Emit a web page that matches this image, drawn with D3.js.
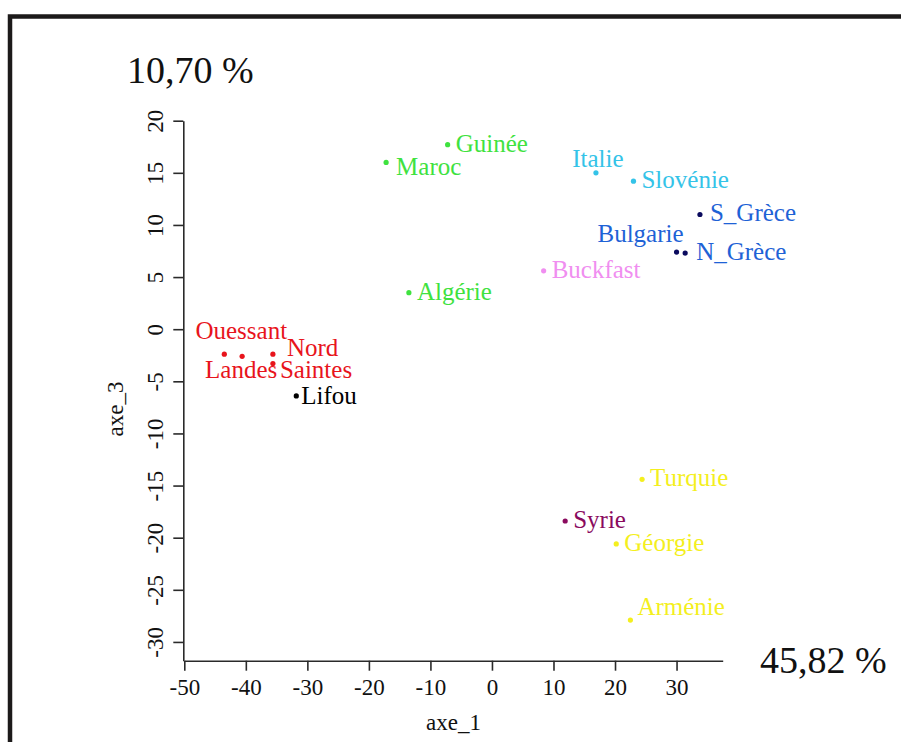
<!DOCTYPE html>
<html>
<head>
<meta charset="utf-8">
<script src="https://cdn.jsdelivr.net/npm/d3@7"></script>
<style>
  html, body { margin: 0; padding: 0; background: #fff; }
  svg { display: block; }
  text { font-family: "Liberation Serif", "Times New Roman", serif; }
</style>
</head>
<body>
<svg id="chart" width="901" height="742"></svg>
<script>
// Population coordinates on the first and third axes
const populations = ["Guinée", "Maroc", "Algérie", "Italie", "Slovénie", "S_Grèce", "Bulgarie", "N_Grèce",
  "Buckfast", "Ouessant", "Landes", "Nord", "Saintes", "Lifou", "Turquie", "Syrie", "Géorgie", "Arménie"];
const axe1 = [-7.2, -17.2, -13.5, 16.9, 23.0, 33.8, 30.0, 31.4,
  8.4, -43.5, -40.6, -35.6, -35.6, -31.8, 24.4, 11.9, 20.2, 22.5];
const axe3 = [17.7, 16.0, 3.5, 15.0, 14.2, 11.0, 7.4, 7.3,
  5.6, -2.4, -2.6, -2.4, -3.3, -6.4, -14.4, -18.4, -20.6, -27.9];
const lineage = ["A", "A", "A", "C", "C", "O", "O", "O",
  "B", "M", "M", "M", "M", "N", "Y", "S", "Y", "Y"];

const xTicks = [-50, -40, -30, -20, -10, 0, 10, 20, 30];
const yTicks = [-30, -25, -20, -15, -10, -5, 0, 5, 10, 15, 20];
const xTitle = "axe_1";
const yTitle = "axe_3";
const xInertia = "45,82 %";
const yInertia = "10,70 %";

// Colours per lineage: point fill and label fill
const dotColor = { A: "#3fe23f", C: "#34c3e8", O: "#0b0b5e", B: "#f08ef0", M: "#e8141c", N: "#000", Y: "#f4ef1e", S: "#8a0a5e" };
const textColor = { A: "#3fe23f", C: "#34c3e8", O: "#1e62d6", B: "#f08ef0", M: "#e8141c", N: "#000", Y: "#f4ef1e", S: "#8a0a5e" };

// Label placement relative to each point (pixels); default sits to the right
const labelPlace = {
  "Maroc": { dx: 10, dy: 13, anchor: "start" },
  "Italie": { dx: 2, dy: -6, anchor: "middle" },
  "Bulgarie": { dx: 7, dy: -10, anchor: "end" },
  "Ouessant": { dx: 17, dy: -15, anchor: "middle" },
  "Landes": { dx: -1, dy: 22, anchor: "middle" },
  "Nord": { dx: 14, dy: 2, anchor: "start" },
  "Saintes": { dx: 7, dy: 14, anchor: "start" },
  "Lifou": { dx: 5, dy: 8, anchor: "start" },
  "Arménie": { dx: 7, dy: -5, anchor: "start" },
  "S_Grèce": { dx: 10, dy: 6, anchor: "start" },
  "N_Grèce": { dx: 11, dy: 7, anchor: "start" }
};
const defaultPlace = { dx: 8, dy: 7, anchor: "start" };

const svg = d3.select("#chart");

// Outer frame
svg.append("rect")
  .attr("x", 10).attr("y", 16.5)
  .attr("width", 1000).attr("height", 1000)
  .attr("fill", "none").attr("stroke", "#1c1a1a").attr("stroke-width", 4.5);

const x = d3.scaleLinear().domain([-50, 37.5]).range([184.3, 722.7]);
const y = d3.scaleLinear().domain([-31.8, 20]).range([660.7, 120.7]);
const plainInt = d => String(d);

// Bottom axis
const gx = svg.append("g")
  .attr("transform", `translate(0,${y(-31.8)})`)
  .call(d3.axisBottom(x).tickValues(xTicks).tickSize(10).tickSizeOuter(0).tickFormat(plainInt));
gx.selectAll("text").attr("y", 34).attr("dy", 0)
  .style("font-size", "23px").attr("fill", "#111");

// Left axis with rotated labels
const gy = svg.append("g")
  .attr("transform", `translate(${x(-50) - 1},0)`)
  .call(d3.axisLeft(y).tickValues(yTicks).tickSize(10).tickSizeOuter(0).tickFormat(plainInt));
gy.selectAll("text")
  .attr("x", 0).attr("y", -20).attr("dy", 0)
  .attr("transform", "rotate(-90)")
  .attr("text-anchor", "middle")
  .style("font-size", "23px").attr("fill", "#111");

svg.selectAll(".domain, .tick line").attr("stroke", "#2a2a2a").attr("stroke-width", 1.6);
svg.selectAll("g").attr("font-family", null);

// Axis titles
svg.append("text")
  .attr("x", (x(-50) + x(37.5)) / 2).attr("y", 730)
  .attr("text-anchor", "middle").style("font-size", "23px").attr("fill", "#111")
  .text(xTitle);
svg.append("text")
  .attr("transform", `translate(123,409) rotate(-90)`)
  .attr("text-anchor", "middle").style("font-size", "23px").attr("fill", "#111")
  .text(yTitle);

// Inertia percentages
svg.append("text").attr("x", 127).attr("y", 82.5)
  .style("font-size", "38px").attr("fill", "#111").text(yInertia);
svg.append("text").attr("x", 760).attr("y", 673)
  .style("font-size", "38px").attr("fill", "#111").text(xInertia);

// Points and labels
const rows = populations.map((name, i) => ({ name, a1: axe1[i], a3: axe3[i], grp: lineage[i] }));

svg.append("g").selectAll("circle")
  .data(rows).join("circle")
  .attr("cx", d => x(d.a1)).attr("cy", d => y(d.a3))
  .attr("r", 2.6)
  .attr("fill", d => dotColor[d.grp]);

svg.append("g").selectAll("text")
  .data(rows).join("text")
  .each(function (d) {
    const p = labelPlace[d.name] || defaultPlace;
    d3.select(this)
      .attr("x", x(d.a1) + p.dx).attr("y", y(d.a3) + p.dy)
      .attr("text-anchor", p.anchor);
  })
  .style("font-size", "25px")
  .attr("fill", d => textColor[d.grp])
  .text(d => d.name);
</script>
</body>
</html>
